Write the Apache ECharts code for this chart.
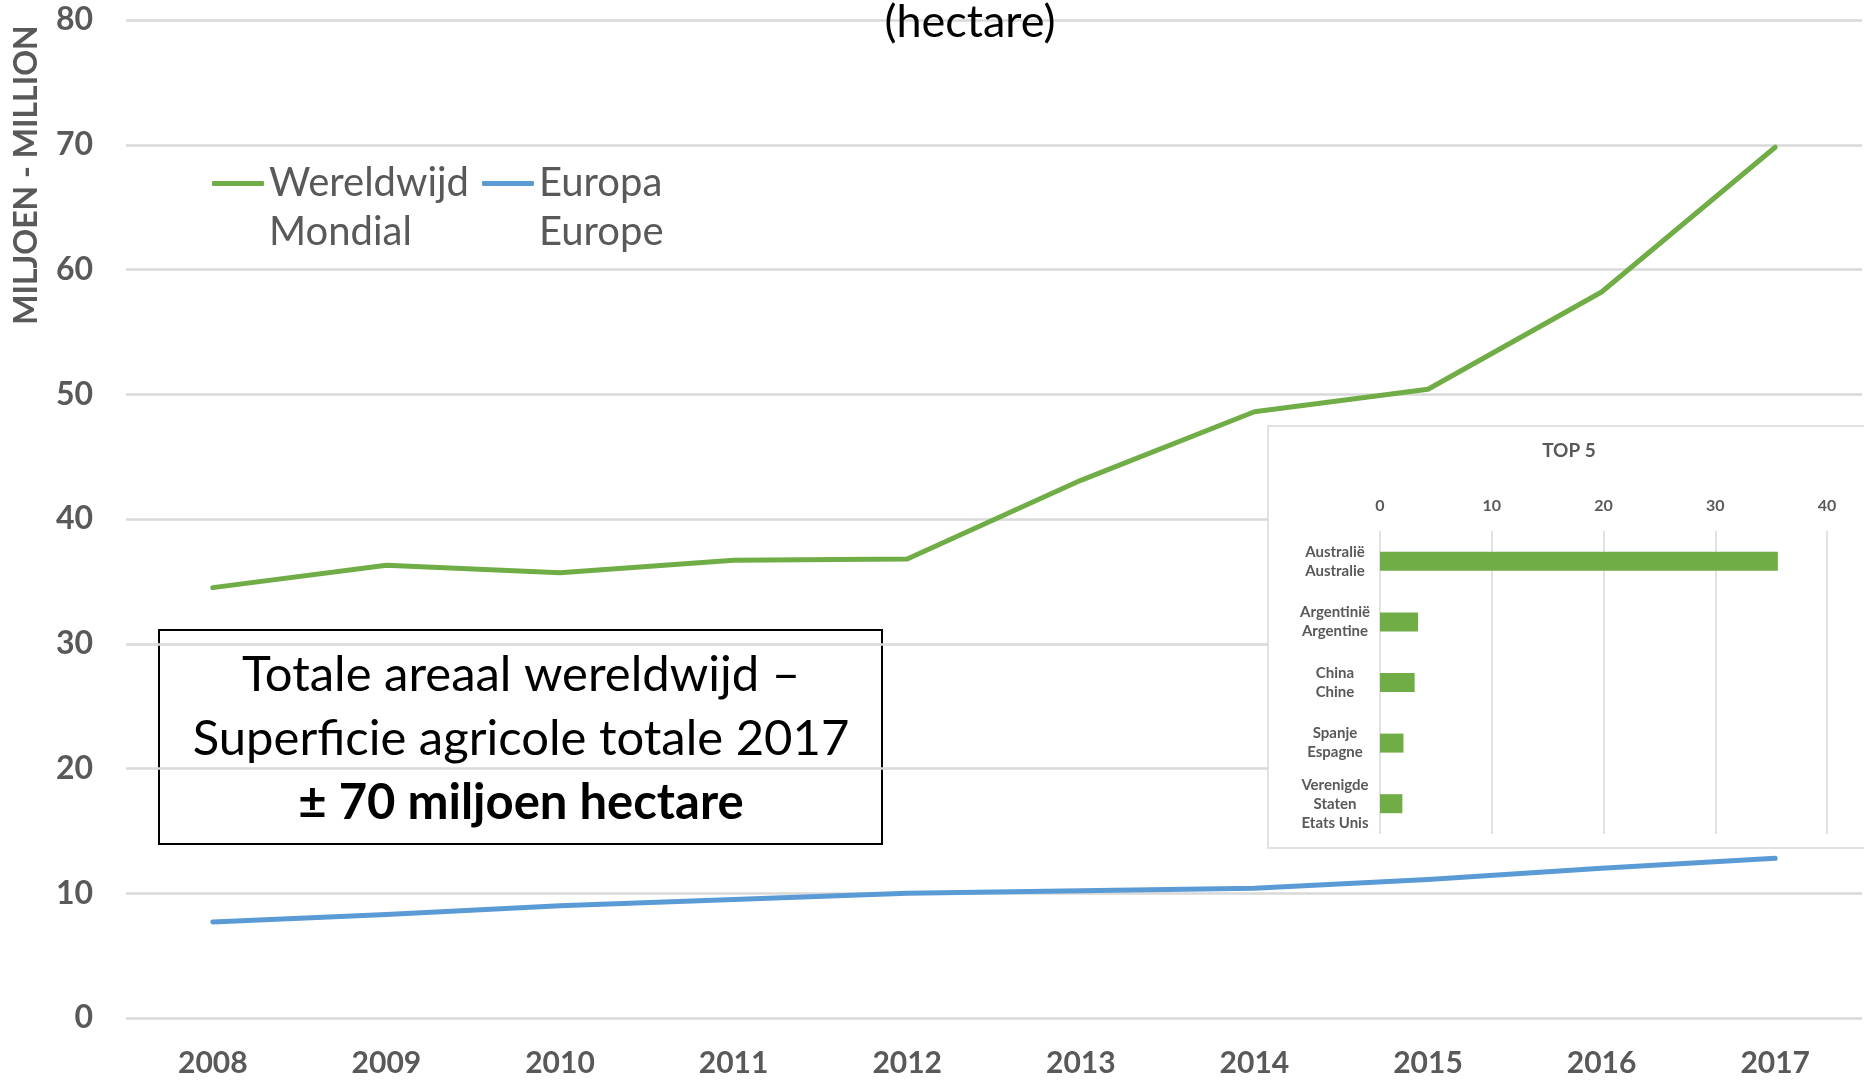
<!DOCTYPE html>
<html>
<head>
<meta charset="utf-8">
<script src="https://cdn.jsdelivr.net/npm/echarts@6/dist/echarts.min.js"></script>
<style>
  html, body { margin: 0; padding: 0; background: #fff; }
  #chart { width: 1864px; height: 1081px; }
</style>
</head>
<body>
<div id="chart"></div>
<script>
// jaren en areaal (miljoen hectare)
const years = ['2008', '2009', '2010', '2011', '2012', '2013', '2014', '2015', '2016', '2017']
const wereldwijd = [34.5, 36.3, 35.7, 36.7, 36.8, 43.1, 48.6, 50.4, 58.2, 69.8]
const europa = [7.7, 8.3, 9.0, 9.5, 10.0, 10.2, 10.4, 11.1, 12.0, 12.8]

// top 5 landen 2017
const top5Landen = ['Australië\nAustralie', 'Argentinië\nArgentine', 'China\nChine', 'Spanje\nEspagne', 'Verenigde\nStaten\nEtats Unis']
const top5Waarden = [35.6, 3.4, 3.1, 2.1, 2.0]

const FONT = 'Lato, "Open Sans", sans-serif'
const GREY = '#595959'
const GREEN = '#70AD47'
const BLUE = '#5B9BD5'

var myChart = echarts.init(document.getElementById('chart'))

var option = {
  animation: false,
  title: [
    {
      text: '(hectare)',
      left: 965,
      textAlign: 'center',
      top: -5,
      textStyle: { fontFamily: FONT, fontSize: 45, fontWeight: 'normal', color: '#000' }
    },
    {
      text: 'TOP 5',
      left: 1564,
      textAlign: 'center',
      top: 436,
      z: 12,
      textStyle: { fontFamily: FONT, fontSize: 19, fontWeight: 'bold', color: GREY }
    }
  ],
  legend: {
    data: ['Wereldwijd\nMondial', 'Europa\nEurope'],
    // lege eerste regel zodat het lijntje bij de eerste tekstregel staat
    formatter: name => '\n' + name,
    left: 212,
    top: 110,
    padding: 0,
    icon: 'roundRect',
    itemWidth: 52,
    itemHeight: 5,
    itemGap: 13,
    textStyle: {
      fontFamily: FONT,
      fontSize: 40,
      color: GREY,
      lineHeight: 49
    }
  },
  grid: [
    { left: 126, right: 2, top: 20, bottom: 63 },
    { left: 1380, top: 531, width: 447, height: 303 }
  ],
  xAxis: [
    {
      type: 'category',
      data: years,
      boundaryGap: true,
      axisLine: { show: false },
      axisTick: { show: false },
      axisLabel: { margin: 30, fontFamily: FONT, fontSize: 30, fontWeight: 'bold', color: GREY }
    },
    {
      gridIndex: 1,
      type: 'value',
      position: 'top',
      min: 0,
      max: 40,
      interval: 10,
      z: 10,
      axisLine: { show: false },
      axisTick: { show: false },
      axisLabel: { margin: 17, fontFamily: FONT, fontSize: 16, fontWeight: 'bold', color: GREY },
      splitLine: { lineStyle: { color: '#d9d9d9', width: 1.5 } }
    }
  ],
  yAxis: [
    {
      type: 'value',
      min: 0,
      max: 80,
      interval: 10,
      axisLine: { show: false },
      axisTick: { show: false },
      axisLabel: { margin: 33, fontFamily: FONT, fontSize: 32, fontWeight: 'bold', color: GREY },
      splitLine: { lineStyle: { color: '#d9d9d9', width: 2.5 } }
    },
    {
      gridIndex: 1,
      type: 'category',
      data: top5Landen,
      inverse: true,
      z: 10,
      axisLine: { show: false },
      axisTick: { show: false },
      axisLabel: {
        margin: 45,
        align: 'center',
        fontFamily: FONT,
        fontSize: 15,
        fontWeight: 'bold',
        lineHeight: 19,
        color: GREY
      }
    }
  ],
  graphic: [
    {
      type: 'text',
      x: 27,
      y: 175,
      rotation: Math.PI / 2,
      style: {
        text: 'MILJOEN - MILLION',
        align: 'center',
        verticalAlign: 'middle',
        fontFamily: FONT,
        fontSize: 32,
        fontWeight: 'bold',
        fill: GREY
      }
    },
    {
      // witte achtergrond van de inzet-grafiek
      type: 'rect',
      z: 5,
      shape: { x: 1268, y: 426, width: 610, height: 422 },
      style: { fill: '#fff', stroke: '#d9d9d9', lineWidth: 1.5 }
    },
    {
      type: 'group',
      x: 159,
      y: 630,
      z: 20,
      children: [
        {
          type: 'rect',
          shape: { x: 0, y: 0, width: 723, height: 214 },
          style: { fill: '#fff', stroke: '#000', lineWidth: 2 }
        },
        {
          type: 'text',
          style: {
            x: 362,
            y: 109,
            align: 'center',
            verticalAlign: 'middle',
            text: '{n|Totale areaal wereldwijd –}\n{n|Superficie agricole totale 2017}\n{b|± 70 miljoen hectare}',
            rich: {
              n: { fontFamily: FONT, fontSize: 49, lineHeight: 64, fill: '#000', align: 'center' },
              b: { fontFamily: FONT, fontSize: 49, lineHeight: 64, fontWeight: 'bold', fill: '#000', align: 'center' }
            }
          }
        }
      ]
    }
  ],
  series: [
    {
      name: 'Wereldwijd\nMondial',
      type: 'line',
      data: wereldwijd,
      symbol: 'none',
      color: GREEN,
      z: 2,
      lineStyle: { width: 5, color: GREEN, cap: 'round', join: 'round' }
    },
    {
      name: 'Europa\nEurope',
      type: 'line',
      data: europa,
      symbol: 'none',
      color: BLUE,
      z: 2,
      lineStyle: { width: 5, color: BLUE, cap: 'round', join: 'round' }
    },
    {
      name: 'Top 5',
      type: 'bar',
      xAxisIndex: 1,
      yAxisIndex: 1,
      data: top5Waarden,
      barWidth: 19,
      z: 11,
      itemStyle: { color: GREEN }
    }
  ]
}

myChart.setOption(option, true)
</script>
</body>
</html>
